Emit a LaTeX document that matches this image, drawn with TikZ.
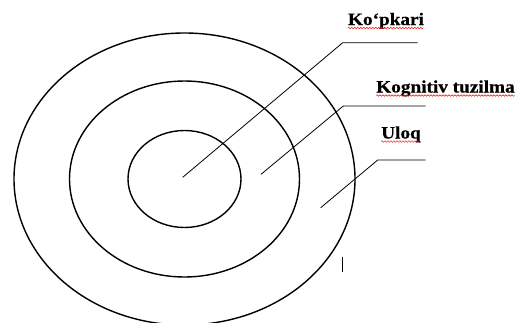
\documentclass[tikz,border=0pt]{standalone}
\usepackage{fontspec}
\setmainfont{Liberation Serif}
\usetikzlibrary{decorations.pathmorphing}
\begin{document}
\begin{tikzpicture}[x=1pt,y=-1pt,
  ring/.style={line width=1.4pt},
  pointer/.style={line width=0.8pt},
  lbl/.style={font=\fontsize{17.5}{18}\selectfont\bfseries, inner sep=0pt, anchor=base},
  spell/.style={red, line width=0.4pt, decorate, decoration={snake, amplitude=0.8pt, segment length=3pt}}]
\useasboundingbox (0,0) rectangle (516,322);
\clip (0,0) rectangle (516,322);
\fill[white] (0,0) rectangle (516,322);
\coordinate (c) at (184.5,179);
\draw[ring] (c) ellipse [x radius=170.5, y radius=146];
\draw[ring] (c) ellipse [x radius=115, y radius=98];
\draw[ring] (c) ellipse [x radius=56.5, y radius=48.5];
% labels
\node[lbl] (l1) at (386,25) {\addfontfeature{FakeStretch=1.1,FakeBold=0.5}Ko‘pkari};
\node[lbl] (l2) at (445.5,92.5) {\addfontfeature{FakeStretch=1.1,FakeBold=0.5}Kognitiv tuzilma};
\node[lbl] (l3) at (401,138.5) {\addfontfeature{FakeStretch=1.1,FakeBold=0.5}Uloq};
\draw[spell] ([yshift=-3pt]l1.base west) -- ([yshift=-3pt]l1.base east);
\draw[spell] ([yshift=-3pt]l2.base west) -- ([yshift=-3pt]l2.base east);
\draw[spell] ([yshift=-3pt]l3.base west) -- ([yshift=-3pt]l3.base east);
% pointer lines
\coordinate (p1s) at (182.7,177.3);
\coordinate (p1k) at (342.7,42.7);
\coordinate (p1e) at (417.7,42.7);
\coordinate (p2s) at (261,174.3);
\coordinate (p2k) at (343.3,106);
\coordinate (p2e) at (425.7,106);
\coordinate (p3s) at (320.7,207.7);
\coordinate (p3k) at (377.7,160);
\coordinate (p3e) at (425.7,160);
\draw[pointer] (p1s) -- (p1k) -- (p1e);
\draw[pointer] (p2s) -- (p2k) -- (p2e);
\draw[pointer] (p3s) -- (p3k) -- (p3e);
% small tick
\coordinate (t1) at (342.7,256.7);
\coordinate (t2) at (342.7,271.7);
\draw[pointer] (t1) -- (t2);
\end{tikzpicture}
\end{document}
